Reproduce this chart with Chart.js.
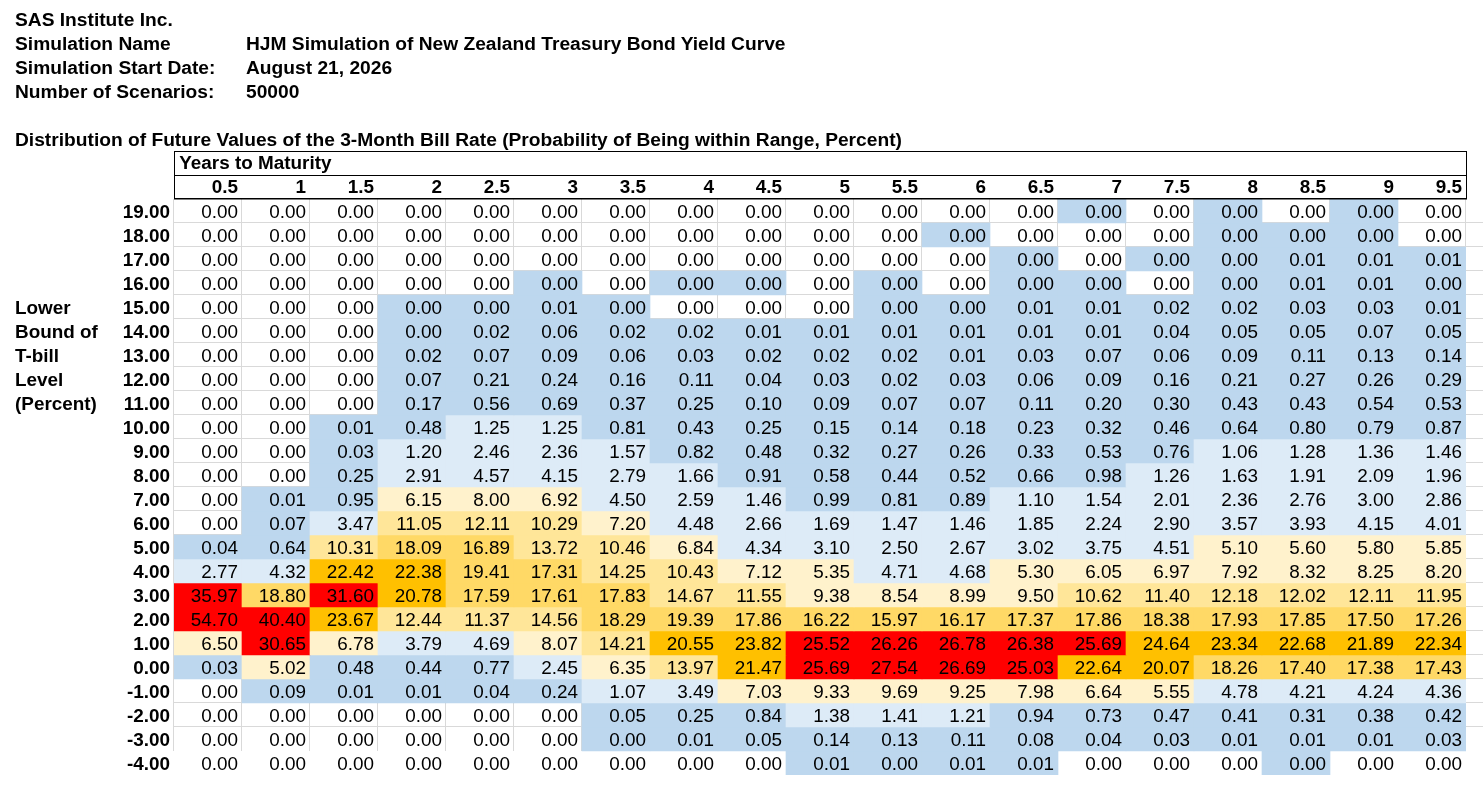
<!DOCTYPE html>
<html>
<head>
<meta charset="utf-8">
<script src="https://cdn.jsdelivr.net/npm/chart.js@4.4.1/dist/chart.umd.min.js"></script>
<style>
  html, body { margin: 0; padding: 0; background: #fff; }
  body { position: relative; width: 1483px; height: 794px; overflow: hidden; }
  canvas { position: absolute; left: 0; top: 0; }
  .txt {
    position: absolute;
    font: bold 19.2px "Liberation Sans", Arial, sans-serif;
    line-height: 24px;
    color: #000;
    white-space: nowrap;
  }
  .side { font-size: 18.9px; }
</style>
</head>
<body>
<canvas id="chart-canvas" width="1483" height="794"></canvas>

<div class="txt" style="left:15px;top:8px">SAS Institute Inc.</div>
<div class="txt" style="left:15px;top:32px">Simulation Name</div>
<div class="txt" style="left:246px;top:32px">HJM Simulation of New Zealand Treasury Bond Yield Curve</div>
<div class="txt" style="left:15px;top:56px">Simulation Start Date:</div>
<div class="txt" style="left:246px;top:56px">August 21, 2026</div>
<div class="txt" style="left:15px;top:80px">Number of Scenarios:</div>
<div class="txt" style="left:246px;top:80px">50000</div>
<div class="txt" style="left:15px;top:128px">Distribution of Future Values of the 3-Month Bill Rate (Probability of Being within Range, Percent)</div>

<div class="txt side" style="left:15px;top:296px">Lower</div>
<div class="txt side" style="left:15px;top:320px">Bound of</div>
<div class="txt side" style="left:15px;top:344px">T-bill</div>
<div class="txt side" style="left:15px;top:368px">Level</div>
<div class="txt side" style="left:15px;top:392px">(Percent)</div>

<script>
// heatmap of simulated 3-month bill rate distribution

const maturities = ['0.5', '1', '1.5', '2', '2.5', '3', '3.5', '4', '4.5', '5',
  '5.5', '6', '6.5', '7', '7.5', '8', '8.5', '9', '9.5'];

const lowerBounds = ['19.00', '18.00', '17.00', '16.00', '15.00', '14.00', '13.00', '12.00',
  '11.00', '10.00', '9.00', '8.00', '7.00', '6.00', '5.00', '4.00', '3.00', '2.00', '1.00',
  '0.00', '-1.00', '-2.00', '-3.00', '-4.00'];

// probability (percent) per maturity; 0.002 = shown as 0.00 but not empty
const r19 = [0, 0, 0, 0, 0, 0, 0, 0, 0, 0, 0, 0, 0, 0.002, 0, 0.002, 0, 0.002, 0];
const r18 = [0, 0, 0, 0, 0, 0, 0, 0, 0, 0, 0, 0.002, 0, 0, 0, 0.002, 0.002, 0.002, 0];
const r17 = [0, 0, 0, 0, 0, 0, 0, 0, 0, 0, 0, 0, 0.002, 0, 0.002, 0.002, 0.01, 0.01, 0.01];
const r16 = [0, 0, 0, 0, 0, 0.002, 0, 0.002, 0.002, 0, 0.002, 0, 0.002, 0.002, 0, 0.002, 0.01, 0.01, 0.002];
const r15 = [0, 0, 0, 0.002, 0.002, 0.01, 0.002, 0, 0, 0, 0.002, 0.002, 0.01, 0.01, 0.02, 0.02, 0.03, 0.03, 0.01];
const r14 = [0, 0, 0, 0.002, 0.02, 0.06, 0.02, 0.02, 0.01, 0.01, 0.01, 0.01, 0.01, 0.01, 0.04, 0.05, 0.05, 0.07, 0.05];
const r13 = [0, 0, 0, 0.02, 0.07, 0.09, 0.06, 0.03, 0.02, 0.02, 0.02, 0.01, 0.03, 0.07, 0.06, 0.09, 0.11, 0.13, 0.14];
const r12 = [0, 0, 0, 0.07, 0.21, 0.24, 0.16, 0.11, 0.04, 0.03, 0.02, 0.03, 0.06, 0.09, 0.16, 0.21, 0.27, 0.26, 0.29];
const r11 = [0, 0, 0, 0.17, 0.56, 0.69, 0.37, 0.25, 0.10, 0.09, 0.07, 0.07, 0.11, 0.20, 0.30, 0.43, 0.43, 0.54, 0.53];
const r10 = [0, 0, 0.01, 0.48, 1.25, 1.25, 0.81, 0.43, 0.25, 0.15, 0.14, 0.18, 0.23, 0.32, 0.46, 0.64, 0.80, 0.79, 0.87];
const r9 = [0, 0, 0.03, 1.20, 2.46, 2.36, 1.57, 0.82, 0.48, 0.32, 0.27, 0.26, 0.33, 0.53, 0.76, 1.06, 1.28, 1.36, 1.46];
const r8 = [0, 0, 0.25, 2.91, 4.57, 4.15, 2.79, 1.66, 0.91, 0.58, 0.44, 0.52, 0.66, 0.98, 1.26, 1.63, 1.91, 2.09, 1.96];
const r7 = [0, 0.01, 0.95, 6.15, 8.00, 6.92, 4.50, 2.59, 1.46, 0.99, 0.81, 0.89, 1.10, 1.54, 2.01, 2.36, 2.76, 3.00, 2.86];
const r6 = [0, 0.07, 3.47, 11.05, 12.11, 10.29, 7.20, 4.48, 2.66, 1.69, 1.47, 1.46, 1.85, 2.24, 2.90, 3.57, 3.93, 4.15, 4.01];
const r5 = [0.04, 0.64, 10.31, 18.09, 16.89, 13.72, 10.46, 6.84, 4.34, 3.10, 2.50, 2.67, 3.02, 3.75, 4.51, 5.10, 5.60, 5.80, 5.85];
const r4 = [2.77, 4.32, 22.42, 22.38, 19.41, 17.31, 14.25, 10.43, 7.12, 5.35, 4.71, 4.68, 5.30, 6.05, 6.97, 7.92, 8.32, 8.25, 8.20];
const r3 = [35.97, 18.80, 31.60, 20.78, 17.59, 17.61, 17.83, 14.67, 11.55, 9.38, 8.54, 8.99, 9.50, 10.62, 11.40, 12.18, 12.02, 12.11, 11.95];
const r2 = [54.70, 40.40, 23.67, 12.44, 11.37, 14.56, 18.29, 19.39, 17.86, 16.22, 15.97, 16.17, 17.37, 17.86, 18.38, 17.93, 17.85, 17.50, 17.26];
const r1 = [6.50, 30.65, 6.78, 3.79, 4.69, 8.07, 14.21, 20.55, 23.82, 25.52, 26.26, 26.78, 26.38, 25.69, 24.64, 23.34, 22.68, 21.89, 22.34];
const r0 = [0.03, 5.02, 0.48, 0.44, 0.77, 2.45, 6.35, 13.97, 21.47, 25.69, 27.54, 26.69, 25.03, 22.64, 20.07, 18.26, 17.40, 17.38, 17.43];
const rm1 = [0, 0.09, 0.01, 0.01, 0.04, 0.24, 1.07, 3.49, 7.03, 9.33, 9.69, 9.25, 7.98, 6.64, 5.55, 4.78, 4.21, 4.24, 4.36];
const rm2 = [0, 0, 0, 0, 0, 0, 0.05, 0.25, 0.84, 1.38, 1.41, 1.21, 0.94, 0.73, 0.47, 0.41, 0.31, 0.38, 0.42];
const rm3 = [0, 0, 0, 0, 0, 0, 0.002, 0.01, 0.05, 0.14, 0.13, 0.11, 0.08, 0.04, 0.03, 0.01, 0.01, 0.01, 0.03];
const rm4 = [0, 0, 0, 0, 0, 0, 0, 0, 0, 0.01, 0.002, 0.01, 0.01, 0, 0, 0, 0.002, 0, 0];

const rows = [r19, r18, r17, r16, r15, r14, r13, r12, r11, r10, r9, r8, r7, r6, r5, r4,
  r3, r2, r1, r0, rm1, rm2, rm3, rm4];

const FONT = '"Liberation Sans", Arial, sans-serif';
const FONT_SIZE = 18.9;

function cellColor(v) {
  if (v <= 0) return 'rgba(0,0,0,0)';
  if (v < 1) return '#bdd7ee';
  if (v < 5) return '#ddebf7';
  if (v < 10) return '#fff2cc';
  if (v < 15) return '#ffe699';
  if (v < 20) return '#ffd966';
  if (v < 25) return '#ffc000';
  return '#ff0000';
}

// sheet gridlines under the cells (no-fill cells let them show)
const gridlinesPlugin = {
  id: 'gridlines',
  beforeDatasetsDraw(chart) {
    const { ctx, chartArea: a } = chart;
    const nCols = maturities.length;
    const rowH = (a.bottom - a.top) / rows.length;
    const colW = (a.right - a.left) / nCols;
    const lastLine = a.top + rowH * (rows.length - 1);
    ctx.save();
    ctx.fillStyle = '#d9d9d9';
    for (let i = 1; i < rows.length - 1; i++) {
      const y = Math.round(a.top + rowH * i);
      ctx.fillRect(a.left, y - 1, chart.width - a.left, 1);
    }
    for (let j = 0; j <= nCols; j++) {
      const x = Math.round(a.left + colW * j);
      ctx.fillRect(x - 1, a.top, 1, lastLine - a.top);
    }
    ctx.restore();
  },
};

// numbers in every cell + the black header box
const cellTextPlugin = {
  id: 'cellText',
  afterDatasetsDraw(chart) {
    const { ctx } = chart;
    ctx.save();
    ctx.font = `${FONT_SIZE}px ${FONT}`;
    ctx.fillStyle = '#000';
    ctx.textAlign = 'right';
    ctx.textBaseline = 'middle';
    chart.data.datasets.forEach((ds, i) => {
      const meta = chart.getDatasetMeta(i);
      meta.data.forEach((bar, j) => {
        const { x, y, base, width } = bar.getProps(['x', 'y', 'base', 'width'], true);
        ctx.fillText(ds.values[j].toFixed(2), x + width / 2 - 4, (y + base) / 2 + 1.5);
      });
    });
    ctx.restore();
  },
  afterDraw(chart) {
    const { ctx, chartArea: a } = chart;
    const top = chart.scales.x.top;
    ctx.save();
    ctx.fillStyle = '#000';
    ctx.fillRect(a.left, top, a.right - a.left + 1, 1);
    ctx.fillRect(a.left, top + 24, a.right - a.left + 1, 1);
    ctx.fillRect(a.left, a.top - 1, a.right - a.left + 1, 1.5);
    ctx.fillRect(a.left, top, 1, a.top - top);
    ctx.fillRect(a.right, top, 1, a.top - top);
    ctx.restore();
  },
};

const datasets = rows.map((vals, i) => ({
  label: lowerBounds[i],
  data: vals.map(() => 1),
  values: vals,
  backgroundColor: vals.map(cellColor),
  borderWidth: 0,
  categoryPercentage: 1,
  barPercentage: 1,
  stack: 'grid',
}));

const ctx = document.getElementById('chart-canvas');

new Chart(ctx, {
  type: 'bar',
  data: { labels: maturities, datasets },
  options: {
    responsive: false,
    animation: false,
    devicePixelRatio: 1,
    layout: { padding: { top: 151, right: 17, bottom: 19, left: 0 } },
    plugins: {
      legend: { display: false },
      tooltip: { enabled: false },
    },
    scales: {
      x: {
        type: 'category',
        position: 'top',
        stacked: true,
        offset: true,
        grid: { display: false, drawTicks: false },
        border: { display: false },
        title: {
          display: true,
          text: ' Years to Maturity',
          align: 'start',
          color: '#000',
          font: { size: FONT_SIZE, family: FONT, weight: 'bold' },
          padding: { top: 1, bottom: 0 },
        },
        ticks: {
          color: '#000',
          font: { size: FONT_SIZE, family: FONT, weight: 'bold' },
          align: 'end',
          labelOffset: 30,
          padding: 0,
          maxRotation: 0,
          autoSkip: false,
        },
        afterFit(scale) { scale.height = 48; },
      },
      y: {
        type: 'linear',
        display: false,
        stacked: true,
        reverse: true,
        min: 0,
        max: rows.length,
      },
      rowLabels: {
        type: 'category',
        labels: lowerBounds,
        position: 'left',
        offset: true,
        grid: { display: false, drawTicks: false },
        border: { display: false },
        ticks: {
          color: '#000',
          font: { size: FONT_SIZE, family: FONT, weight: 'bold' },
          padding: 4,
          labelOffset: 1.5,
          autoSkip: false,
        },
        afterFit(scale) { scale.width = 174; },
      },
    },
  },
  plugins: [gridlinesPlugin, cellTextPlugin],
});
</script>
</body>
</html>
